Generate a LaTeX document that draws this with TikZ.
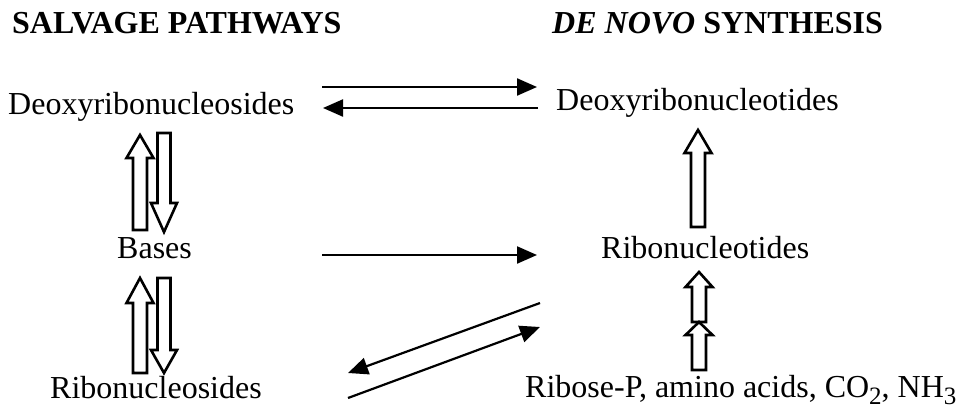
\documentclass[tikz,border=0pt]{standalone}
\usepackage{fontspec}
\setmainfont{Liberation Serif}
\usetikzlibrary{arrows.meta,calc}

% lowered subscript digit, as in CO2 and NH3
\newcommand\lowsub[1]{\raisebox{-0.22em}{\fontsize{25}{30}\selectfont #1}}

\tikzset{
  label/.style={anchor=base west, inner sep=0pt, font=\fontsize{32}{38}\selectfont},
  heading/.style={label, font=\fontsize{32}{38}\selectfont\bfseries},
  thinarrow/.style={line width=2.2pt, -{Triangle[length=20pt,width=17pt]}},
  % open block arrow: #1 half shaft width, #2 half head width, #3 head length
  hollow/.style n args={3}{line width=2.6pt, line join=miter, draw=black, fill=white,
    to path={
      ($(\tikztostart)!#1!90:(\tikztotarget)$)
      -- ($($(\tikztotarget)!#3!(\tikztostart)$)!#1!90:(\tikztotarget)$)
      -- ($($(\tikztotarget)!#3!(\tikztostart)$)!#2!90:(\tikztotarget)$)
      -- (\tikztotarget)
      -- ($($(\tikztotarget)!#3!(\tikztostart)$)!#2!-90:(\tikztotarget)$)
      -- ($($(\tikztotarget)!#3!(\tikztostart)$)!#1!-90:(\tikztotarget)$)
      -- ($(\tikztostart)!#1!-90:(\tikztotarget)$)
      -- cycle}}
}

\begin{document}
\begin{tikzpicture}[x=1pt,y=-1pt]
\useasboundingbox (0,0) rectangle (968,410);

% column headings
\node[heading] (salv) at (12,33) {SALVAGE PATHWAYS};
\node[heading] (denovo) at (552,33) {\textit{DE NOVO} SYNTHESIS};

% compounds
\node[label] (dns) at (8,114) {Deoxyribonucleosides};
\node[label] (dnt) at (556,110) {Deoxyribonucleotides};
\node[label] (bas) at (117,258) {Bases};
\node[label] (rnt) at (601,258) {Ribonucleotides};
\node[label] (rns) at (50,398) {Ribonucleosides};
\node[label] (pre) at (525,397) {Ribose-P, amino acids, CO\lowsub{2}, NH\lowsub{3}};

% ends of the thin reaction arrows
\coordinate (t1a) at (322,87);  \coordinate (t1b) at (537,87);
\coordinate (t2a) at (538,108); \coordinate (t2b) at (323,108);
\coordinate (t3a) at (322,255); \coordinate (t3b) at (537,255);
\coordinate (t4a) at (540,303); \coordinate (t4b) at (348,373);
\coordinate (t5a) at (348,398); \coordinate (t5b) at (540,327);

\draw[thinarrow] (t1a) -- (t1b);
\draw[thinarrow] (t2a) -- (t2b);
\draw[thinarrow] (t3a) -- (t3b);
\draw[thinarrow] (t4a) -- (t4b);
\draw[thinarrow] (t5a) -- (t5b);

% ends of the open block arrows
\coordinate (h1a) at (140,230); \coordinate (h1b) at (140,135);
\coordinate (h2a) at (164,133); \coordinate (h2b) at (164,232);
\coordinate (h3a) at (140,373); \coordinate (h3b) at (140,278);
\coordinate (h4a) at (164,278); \coordinate (h4b) at (164,373);
\coordinate (h5a) at (698,227); \coordinate (h5b) at (698,130);
\coordinate (h6a) at (699,322); \coordinate (h6b) at (699,272);
\coordinate (h7a) at (699,370); \coordinate (h7b) at (699,322);

\draw[hollow={7pt}{13.5pt}{23pt}] (h1a) to (h1b);
\draw[hollow={6.5pt}{13pt}{29pt}] (h2a) to (h2b);
\draw[hollow={7pt}{13.5pt}{25pt}] (h3a) to (h3b);
\draw[hollow={6.5pt}{13pt}{23pt}] (h4a) to (h4b);
\draw[hollow={7pt}{13.5pt}{23pt}] (h5a) to (h5b);
\draw[hollow={7pt}{13.5pt}{15pt}] (h6a) to (h6b);
\draw[hollow={7pt}{13.5pt}{13pt}] (h7a) to (h7b);
\end{tikzpicture}
\end{document}
